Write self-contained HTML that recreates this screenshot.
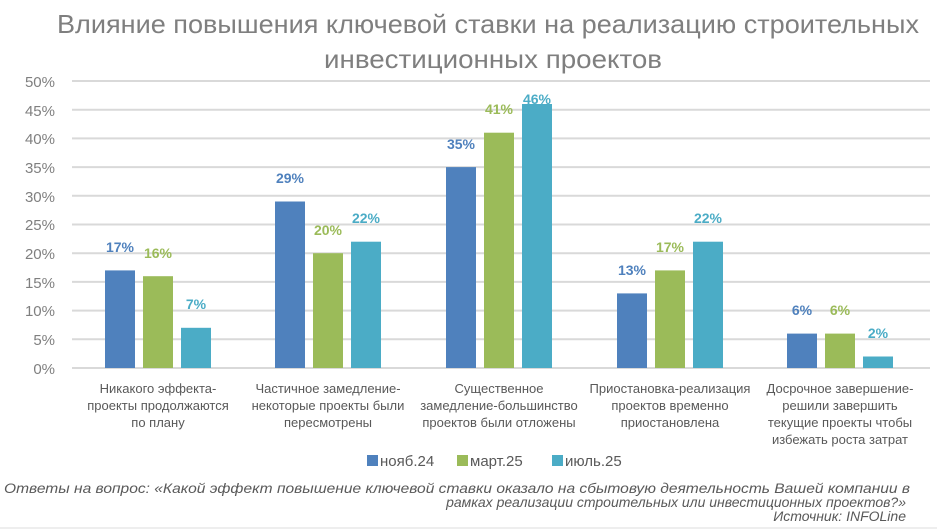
<!DOCTYPE html>
<html><head><meta charset="utf-8"><style>
html,body{margin:0;padding:0;background:#fff;}
svg{display:block;font-family:"Liberation Sans","DejaVu Sans",sans-serif;}
</style></head><body>
<svg width="937" height="530" viewBox="0 0 937 530">
<g fill="#7f7f7f" font-size="26" text-anchor="middle">
<text x="488" y="33" textLength="862" lengthAdjust="spacingAndGlyphs">Влияние повышения ключевой ставки на реализацию строительных</text>
<text x="493" y="68" textLength="338" lengthAdjust="spacingAndGlyphs">инвестиционных проектов</text>
</g>
<g stroke="#d9d9d9" stroke-width="2">
<line x1="72" x2="930" y1="81" y2="81"/><line x1="72" x2="930" y1="109.7" y2="109.7"/>
<line x1="72" x2="930" y1="138.4" y2="138.4"/><line x1="72" x2="930" y1="167.1" y2="167.1"/>
<line x1="72" x2="930" y1="195.8" y2="195.8"/><line x1="72" x2="930" y1="224.5" y2="224.5"/>
<line x1="72" x2="930" y1="253.2" y2="253.2"/><line x1="72" x2="930" y1="281.9" y2="281.9"/>
<line x1="72" x2="930" y1="310.6" y2="310.6"/><line x1="72" x2="930" y1="339.3" y2="339.3"/>
<line x1="72" x2="930" y1="368" y2="368"/>
</g>
<g fill="#7f7f7f" font-size="15" text-anchor="end">
<text x="55" y="87">50%</text><text x="55" y="116">45%</text><text x="55" y="144">40%</text>
<text x="55" y="173">35%</text><text x="55" y="202">30%</text><text x="55" y="230">25%</text>
<text x="55" y="259">20%</text><text x="55" y="288">15%</text><text x="55" y="316">10%</text>
<text x="55" y="345">5%</text><text x="55" y="374">0%</text>
</g>
<!-- bars: 5.74px per % -->
<g>
<rect x="105" y="270.4" width="30" height="97.6" fill="#4f81bd"/>
<rect x="143" y="276.2" width="30" height="91.8" fill="#9bbb59"/>
<rect x="181" y="327.8" width="30" height="40.2" fill="#4bacc6"/>
<rect x="275" y="201.5" width="30" height="166.5" fill="#4f81bd"/>
<rect x="313" y="253.2" width="30" height="114.8" fill="#9bbb59"/>
<rect x="351" y="241.7" width="30" height="126.3" fill="#4bacc6"/>
<rect x="446" y="167.1" width="30" height="200.9" fill="#4f81bd"/>
<rect x="484" y="132.7" width="30" height="235.3" fill="#9bbb59"/>
<rect x="522" y="104" width="30" height="264" fill="#4bacc6"/>
<rect x="617" y="293.4" width="30" height="74.6" fill="#4f81bd"/>
<rect x="655" y="270.4" width="30" height="97.6" fill="#9bbb59"/>
<rect x="693" y="241.7" width="30" height="126.3" fill="#4bacc6"/>
<rect x="787" y="333.6" width="30" height="34.4" fill="#4f81bd"/>
<rect x="825" y="333.6" width="30" height="34.4" fill="#9bbb59"/>
<rect x="863" y="356.5" width="30" height="11.5" fill="#4bacc6"/>
</g>
<g font-size="14" font-weight="bold" text-anchor="middle">
<text x="120" y="252" fill="#4f81bd">17%</text><text x="158" y="258" fill="#9bbb59">16%</text><text x="196" y="309" fill="#4bacc6">7%</text>
<text x="290" y="183" fill="#4f81bd">29%</text><text x="328" y="235" fill="#9bbb59">20%</text><text x="366" y="223" fill="#4bacc6">22%</text>
<text x="461" y="149" fill="#4f81bd">35%</text><text x="499" y="114" fill="#9bbb59">41%</text><text x="537" y="104" fill="#4bacc6">46%</text>
<text x="632" y="275" fill="#4f81bd">13%</text><text x="670" y="252" fill="#9bbb59">17%</text><text x="708" y="223" fill="#4bacc6">22%</text>
<text x="802" y="315" fill="#4f81bd">6%</text><text x="840" y="315" fill="#9bbb59">6%</text><text x="878" y="338" fill="#4bacc6">2%</text>
</g>
<g fill="#595959" font-size="13" text-anchor="middle">
<text x="158" y="393">Никакого эффекта-</text><text x="158" y="410">проекты продолжаются</text><text x="158" y="427">по плану</text>
<text x="328" y="393">Частичное замедление-</text><text x="328" y="410">некоторые проекты были</text><text x="328" y="427">пересмотрены</text>
<text x="499" y="393">Существенное</text><text x="499" y="410">замедление-большинство</text><text x="499" y="427">проектов были отложены</text>
<text x="670" y="393">Приостановка-реализация</text><text x="670" y="410">проектов временно</text><text x="670" y="427">приостановлена</text>
<text x="840" y="393">Досрочное завершение-</text><text x="840" y="410">решили завершить</text><text x="840" y="427">текущие проекты чтобы</text><text x="840" y="444">избежать роста затрат</text>
</g>
<g font-size="15" fill="#595959">
<rect x="367" y="455" width="11" height="11" fill="#4f81bd"/><text x="380" y="466">нояб.24</text>
<rect x="457" y="455" width="11" height="11" fill="#9bbb59"/><text x="470" y="466">март.25</text>
<rect x="552" y="455" width="11" height="11" fill="#4bacc6"/><text x="565" y="466">июль.25</text>
</g>
<g font-size="14" font-style="italic" fill="#595959">
<text x="4" y="493" textLength="906" lengthAdjust="spacingAndGlyphs">Ответы на вопрос: «Какой эффект повышение ключевой ставки оказало на сбытовую деятельность Вашей компании в</text>
<text x="906" y="507" text-anchor="end">рамках реализации строительных или инвестиционных проектов?»</text>
<text x="906" y="521" text-anchor="end">Источник: INFOLine</text>
</g>
<line x1="0" x2="937" y1="528" y2="528" stroke="#eeeeee" stroke-width="2"/>
</svg>
</body></html>
